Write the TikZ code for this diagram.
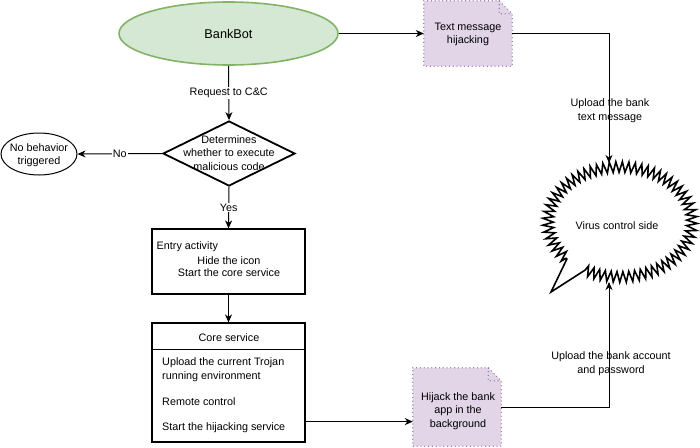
\documentclass[tikz,border=0pt]{standalone}
\usepackage{fontspec}
\setmainfont{Liberation Sans}
\usetikzlibrary{arrows.meta,shapes.geometric,decorations.pathmorphing,calc}
\definecolor{bbfill}{HTML}{D5E8D4}
\definecolor{bbstroke}{HTML}{82B366}
\definecolor{notefill}{HTML}{E1D5E7}
\definecolor{notestroke}{HTML}{9673A6}
\tikzset{
  txt/.style={font=\fontsize{10.8}{13.5}\selectfont, inner sep=1pt},
  arr/.style={line width=1pt, -{Stealth[length=8pt,width=7pt,inset=2.5pt]}},
  box/.style={draw, line width=1.2pt, rectangle, inner sep=0pt},
  notestyle/.style={fill=notefill, draw=notestroke, line width=1.4pt, dash pattern=on 0pt off 3.8pt, line cap=round},
  folddraw/.style={draw=notestroke, line width=1.4pt, dash pattern=on 0pt off 3.8pt, line cap=round},
}
\begin{document}
\begin{tikzpicture}[x=1pt,y=-1pt]
\useasboundingbox (0,0) rectangle (700,447);
% BankBot
\node[ellipse, draw=bbstroke, fill=bbfill, line width=1.6pt, minimum width=219pt, minimum height=63pt, inner sep=0pt, font=\fontsize{12.7}{15}\selectfont] (bank) at (228.5,33.5) {BankBot};
% decision
\node[diamond, draw, line width=1.8pt, minimum width=132pt, minimum height=65pt, inner sep=0pt] (dec) at (229,153.5) {};
\node[txt, align=center] (dectxt) at (229,153) {Determines\\whether to execute\\malicious code};
% no behavior
\node[ellipse, draw, line width=1pt, minimum width=76pt, minimum height=42pt, inner sep=0pt] (nob) at (39,154) {};
\node[txt, align=center] (nobtxt) at (39,155) {No behavior\\triggered};
% entry
\node[box, minimum width=153pt, minimum height=65pt] (entry) at (228.5,261.5) {};
\node[txt, anchor=west] (e1) at (155.5,247) {Entry activity};
\node[txt] (e2) at (229,261) {Hide the icon};
\node[txt] (e3) at (229,273) {Start the core service};
% core
\node[box, minimum width=153pt, minimum height=119pt] (core) at (228.5,382.5) {};
\draw[line width=1.2pt] ($(core.north west)+(0,27)$) -- ($(core.north east)+(0,27)$);
\node[txt] (c0) at (229,338) {Core service};
\node[txt, anchor=west, align=left] (c1) at (161,369.5) {Upload the current Trojan\\running environment};
\node[txt, anchor=west] (c2) at (161,402) {Remote control};
\node[txt, anchor=west] (c3) at (161,428) {Start the hijacking service};
% notes
\node[minimum width=88pt, minimum height=65pt, inner sep=0pt] (tm) at (468,33.5) {};
\path[notestyle] (tm.north west) -- ($(tm.north east)+(-13,0)$) -- ($(tm.north east)+(0,13)$) -- (tm.south east) -- (tm.south west) -- cycle;
\path[folddraw] ($(tm.north east)+(-13,0)$) -- ($(tm.north east)+(-13,13)$) -- ($(tm.north east)+(0,13)$);
\node[txt, align=center] (tmtxt) at (468,34.5) {Text message\\hijacking};
\node[minimum width=88pt, minimum height=78pt, inner sep=0pt] (hij) at (457,407) {};
\path[notestyle] (hij.north west) -- ($(hij.north east)+(-13,0)$) -- ($(hij.north east)+(0,13)$) -- (hij.south east) -- (hij.south west) -- cycle;
\path[folddraw] ($(hij.north east)+(-13,0)$) -- ($(hij.north east)+(-13,13)$) -- ($(hij.north east)+(0,13)$);
\node[txt, align=center] (hijtxt) at (458,411) {Hijack the bank\\app in the\\background};
% cloud
\draw[line width=1.6pt, line join=miter, miter limit=10]
  ($(620,222)+(119:72 and 55)$) decorate[decoration={zigzag, segment length=6.2pt, amplitude=5.3pt}] { arc[start angle=119, end angle=-222.4, x radius=72, y radius=55] } -- (551,292) -- cycle;
\node[txt] (vc) at (617,226) {Virus control side};
\coordinate (vctop) at (609,163);
\coordinate (vcbot) at (609,282);
% connectors
\draw[arr] (bank.south) -- node[txt, fill=white] (l1) {Request to C\&C} (dec.north);
\draw[arr] (dec.west) -- node[txt, fill=white] (l2) {No} (nob.east);
\draw[arr] (dec.south) -- node[txt, fill=white] (l3) {Yes} (entry.north);
\draw[arr] (entry.south) -- (core.north);
\draw[arr] ($(core.south east)+(0,-21)$) coordinate (cout) -- (cout -| hij.west);
\draw[arr] (bank.east) -- (tm.west);
\draw[arr] (tm.east) -| (vctop);
\draw[arr] (hij.east) -| (vcbot);
\node[txt, align=center] (l4) at (610,110.5) {Upload the bank\\text message};
\node[txt, align=center] (l5) at (611,363.5) {Upload the bank account\\and password};
\end{tikzpicture}
\end{document}
